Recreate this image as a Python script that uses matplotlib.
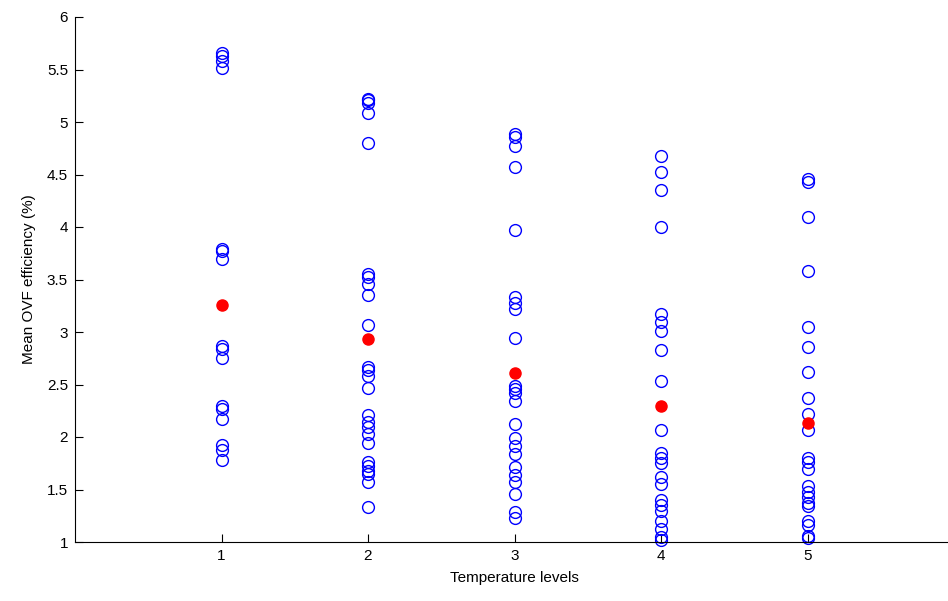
import numpy as np
import matplotlib.pyplot as plt

# =========================
# DATA
# =========================
levels = [1, 2, 3, 4, 5]

eff_level1 = [5.66, 5.63, 5.58, 5.51, 3.79, 3.77, 3.70, 2.87, 2.84, 2.75,
              2.30, 2.27, 2.17, 1.92, 1.88, 1.78]
eff_level2 = [5.22, 5.21, 5.18, 5.09, 4.80, 3.55, 3.52, 3.46, 3.35, 3.07,
              2.67, 2.64, 2.58, 2.47, 2.21, 2.14, 2.10, 2.03, 1.94, 1.76,
              1.72, 1.68, 1.65, 1.57, 1.33]
eff_level3 = [4.89, 4.86, 4.77, 4.57, 3.97, 3.33, 3.28, 3.22, 2.94, 2.49,
              2.46, 2.42, 2.34, 2.12, 1.99, 1.91, 1.84, 1.71, 1.64, 1.57,
              1.46, 1.29, 1.23]
eff_level4 = [4.68, 4.52, 4.35, 4.00, 3.17, 3.10, 3.01, 2.83, 2.53, 2.07,
              1.85, 1.80, 1.75, 1.62, 1.55, 1.40, 1.35, 1.30, 1.20, 1.12,
              1.05, 1.02]
eff_level5 = [4.46, 4.43, 4.10, 3.58, 3.05, 2.86, 2.62, 2.37, 2.22, 2.07,
              1.80, 1.76, 1.70, 1.53, 1.48, 1.43, 1.37, 1.34, 1.20, 1.16,
              1.06, 1.04]

mean_eff = [3.26, 2.93, 2.61, 2.30, 2.13]

y_ticks = [1, 1.5, 2, 2.5, 3, 3.5, 4, 4.5, 5, 5.5, 6]
y_tick_labels = ["1", "1.5", "2", "2.5", "3", "3.5", "4", "4.5", "5", "5.5", "6"]

# =========================
# PLOT
# =========================
plt.rcParams["font.family"] = ["Liberation Sans", "DejaVu Sans"]

fig = plt.figure(figsize=(9.48, 6.01), dpi=100)
ax = fig.add_axes([75 / 948, 59 / 601, 879 / 948, 525 / 601])

all_levels = [eff_level1, eff_level2, eff_level3, eff_level4, eff_level5]
for lvl, vals in zip(levels, all_levels):
    ax.plot([lvl] * len(vals), vals, "o", color="blue", mfc="none",
            markersize=8.5, markeredgewidth=1.0, clip_on=False)

# level means
ax.plot(levels, mean_eff, "o", color="red", markersize=8, clip_on=False)

ax.set_xlim(0, 6)
ax.set_ylim(1, 6)
ax.set_xticks(levels)
ax.set_yticks(y_ticks)
ax.set_yticklabels(y_tick_labels)

ax.spines["top"].set_visible(False)
ax.spines["right"].set_visible(False)
for s in ["left", "bottom"]:
    ax.spines[s].set_linewidth(0.8)
    ax.spines[s].set_color("black")

ax.tick_params(direction="in", length=6, width=0.8, labelsize=11, pad=5)

ax.set_xlabel("Temperature levels", fontsize=11, labelpad=6)
ax.set_ylabel("Mean OVF efficiency (%)", fontsize=11, labelpad=8)

fig.savefig("out.png", dpi=100)
plt.close(fig)
